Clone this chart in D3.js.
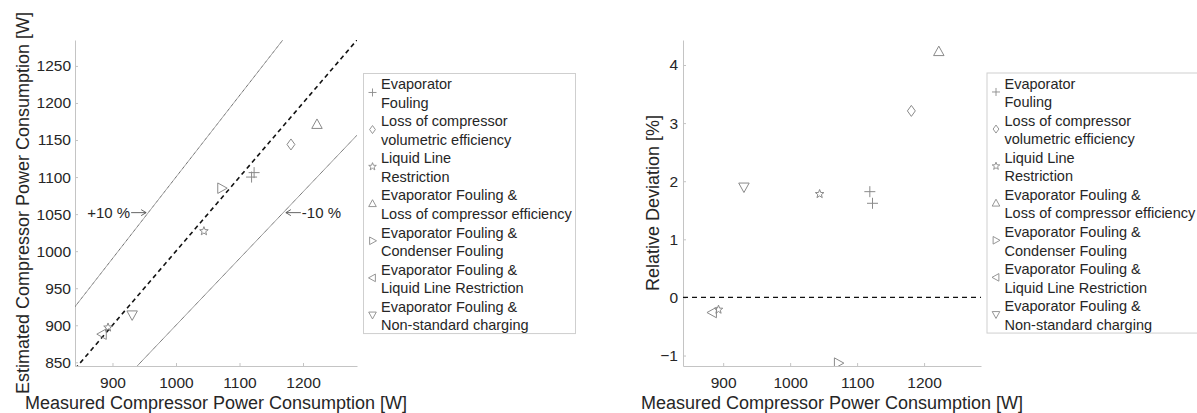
<!DOCTYPE html>
<html>
<head>
<meta charset="utf-8">
<script src="https://cdn.jsdelivr.net/npm/d3@7"></script>
<style>
  body { margin: 0; background: #fff; }
  svg text { font-family: Arial, "Liberation Sans", sans-serif; fill: #262626; }
</style>
</head>
<body>
<div id="chart"></div>
<script>
/// DATA
const categories = [
  ["Evaporator", "Fouling"],
  ["Loss of compressor", "volumetric efficiency"],
  ["Liquid Line", "Restriction"],
  ["Evaporator Fouling &", "Loss of compressor efficiency"],
  ["Evaporator Fouling &", "Condenser Fouling"],
  ["Evaporator Fouling &", "Liquid Line Restriction"],
  ["Evaporator Fouling &", "Non-standard charging"]
];
const markers = ["plus", "diamond", "star", "up", "right", "left", "down"];

// one entry per test point: category index, measured [W], estimated [W], deviation [%]
const pointCategory = [0, 0, 1, 2, 2, 3, 4, 5, 6];
const measured  = [1119, 1123, 1181, 1044, 893, 1222, 1072, 884, 931];
const estimated = [1100, 1106, 1144, 1027, 897, 1171, 1085, 888, 914];
const deviation = [1.82, 1.62, 3.21, 1.78, -0.21, 4.23, -1.13, -0.26, 1.90];

const xTicks = [900, 1000, 1100, 1200];
const yTicksLeft = [850, 900, 950, 1000, 1050, 1100, 1150, 1200, 1250];
const yTicksRight = [-1, 0, 1, 2, 3, 4];

const bandFactors = [1.1, 0.9];       // +10 % / -10 % lines
const annotations = [
  {text: "+10 %", tipX: 953, tipY: 1052, dir: 1},
  {text: "-10 %", tipX: 1173, tipY: 1052, dir: -1}
];

const width = 1197, height = 413;
const axisColor = "#c4c4c4", markColor = "#8a8a8a";

/// marker shapes (MATLAB style), r = half size in px
function markerPath(type, r) {
  const p = d3.path();
  if (type === "plus") {
    p.moveTo(-r, 0); p.lineTo(r, 0); p.moveTo(0, -r); p.lineTo(0, r);
  } else if (type === "diamond") {
    p.moveTo(0, -r); p.lineTo(r * 0.72, 0); p.lineTo(0, r); p.lineTo(-r * 0.72, 0); p.closePath();
  } else if (type === "star") {
    for (let i = 0; i < 10; i++) {
      const a = -Math.PI / 2 + i * Math.PI / 5, rr = i % 2 ? r * 0.42 : r;
      i ? p.lineTo(rr * Math.cos(a), rr * Math.sin(a)) : p.moveTo(rr * Math.cos(a), rr * Math.sin(a));
    }
    p.closePath();
  } else {
    const rot = {up: 0, right: 90, down: 180, left: 270}[type] * Math.PI / 180;
    const pts = [[0, -r], [r * 0.95, r * 0.72], [-r * 0.95, r * 0.72]].map(([x, y]) =>
      [x * Math.cos(rot) - y * Math.sin(rot), x * Math.sin(rot) + y * Math.cos(rot)]);
    p.moveTo(...pts[0]); p.lineTo(...pts[1]); p.lineTo(...pts[2]); p.closePath();
  }
  return p.toString();
}

const svg = d3.select("#chart").append("svg")
  .attr("width", width).attr("height", height);

const defs = svg.append("defs");

/// SETUP one panel: axes box, ticks, labels
function setupPanel(id, box, xDomain, yDomain, yTicks, yLabel, yLabelX, yPad) {
  const x = d3.scaleLinear().domain(xDomain).range([box.left, box.right]);
  const y = d3.scaleLinear().domain(yDomain).range([box.bottom, box.top]);

  defs.append("clipPath").attr("id", id)
    .append("rect")
    .attr("x", box.left).attr("y", box.top)
    .attr("width", box.right - box.left).attr("height", box.bottom - box.top);

  const gx = svg.append("g")
    .attr("transform", `translate(0,${box.bottom})`)
    .call(d3.axisBottom(x).tickValues(xTicks).tickFormat(d3.format("d"))
      .tickSizeInner(-3).tickSizeOuter(0).tickPadding(11));
  const gy = svg.append("g")
    .attr("transform", `translate(${box.left},0)`)
    .call(d3.axisLeft(y).tickValues(yTicks).tickFormat(d3.format("d"))
      .tickSizeInner(-3).tickSizeOuter(0).tickPadding(yPad));
  [gx, gy].forEach(g => {
    g.select(".domain").attr("stroke", axisColor);
    g.selectAll(".tick line").attr("stroke", axisColor);
    g.selectAll(".tick text").style("font-size", "15.5px").attr("fill", "#262626");
  });

  svg.append("text")
    .attr("x", (box.left + box.right) / 2).attr("y", 408.5)
    .attr("text-anchor", "middle").style("font-size", "18px")
    .text("Measured Compressor Power Consumption [W]");
  svg.append("text")
    .attr("transform", `translate(${yLabelX},${(box.top + box.bottom) / 2}) rotate(-90)`)
    .attr("text-anchor", "middle").style("font-size", "18px")
    .text(yLabel);

  const plot = svg.append("g").attr("clip-path", `url(#${id})`);
  return {x, y, plot};
}

/// DRAW legend (two-line labels, marker between the lines)
function drawLegend(left, top) {
  const rowH = 18.54;
  const g = svg.append("g");
  g.append("rect")
    .attr("x", left).attr("y", top)
    .attr("width", 212).attr("height", rowH * categories.length * 2 + 0.5)
    .attr("fill", "#fff").attr("stroke", "#cfcfcf");
  categories.forEach((lines, i) => {
    const c1 = top + 10.7 + 2 * i * rowH;
    lines.forEach((t, j) => {
      g.append("text")
        .attr("x", left + 17.5).attr("y", c1 + j * rowH + 5)
        .style("font-size", "14.5px")
        .text(t);
    });
    g.append("path")
      .attr("transform", `translate(${left + 9},${c1 + rowH / 2 - 1})`)
      .attr("d", markerPath(markers[i], 4))
      .attr("fill", "none").attr("stroke", markColor).attr("stroke-width", 0.9);
  });
}

function drawPoints(panel, yValues) {
  panel.plot.selectAll(".pt")
    .data(measured.map((m, i) => ({m, v: yValues[i], c: pointCategory[i]})))
    .join("path")
    .attr("class", "pt")
    .attr("transform", d => `translate(${panel.x(d.m)},${panel.y(d.v)})`)
    .attr("d", d => markerPath(markers[d.c], d.c === 2 ? 4.5 : 5.5))
    .attr("fill", "none")
    .attr("stroke", markColor)
    .attr("stroke-width", 1);
}

/// LEFT: estimated vs measured
const left = setupPanel("clipL", {left: 75, right: 357, top: 40, bottom: 366},
  [841, 1285], [845, 1285], yTicksLeft,
  "Estimated Compressor Power Consumption [W]", 29, 4);

const lo = left.x.domain()[0], hi = left.x.domain()[1];
left.plot.append("line")
  .attr("x1", left.x(lo)).attr("y1", left.y(lo))
  .attr("x2", left.x(hi)).attr("y2", left.y(hi))
  .attr("stroke", "#111").attr("stroke-width", 1.6).attr("stroke-dasharray", "4.5,3.5");
bandFactors.forEach(f => {
  left.plot.append("line")
    .attr("x1", left.x(lo)).attr("y1", left.y(lo * f))
    .attr("x2", left.x(hi)).attr("y2", left.y(hi * f))
    .attr("stroke", "#333").attr("stroke-width", 0.9).attr("stroke-dasharray", "1,0.6");
});
drawPoints(left, estimated);

annotations.forEach(a => {
  const tx = left.x(a.tipX), ty = left.y(a.tipY);
  const tail = tx - a.dir * 15;
  svg.append("line")
    .attr("x1", tail).attr("y1", ty).attr("x2", tx).attr("y2", ty)
    .attr("stroke", "#555").attr("stroke-width", 0.9);
  svg.append("path")
    .attr("d", `M${tx - a.dir * 5},${ty - 3}L${tx},${ty}L${tx - a.dir * 5},${ty + 3}`)
    .attr("fill", "none").attr("stroke", "#555").attr("stroke-width", 0.9);
  svg.append("text")
    .attr("x", tail - a.dir * 1).attr("y", ty + 5.3)
    .attr("text-anchor", a.dir > 0 ? "end" : "start")
    .style("font-size", "15px").attr("fill", "#111")
    .text(a.text);
});

/// RIGHT: relative deviation
const right = setupPanel("clipR", {left: 683, right: 981, top: 40, bottom: 366},
  [840, 1285], [-1.18, 4.43], yTicksRight,
  "Relative Deviation [%]", 659, 5);

right.plot.append("line")
  .attr("x1", right.x(840)).attr("x2", right.x(1285))
  .attr("y1", right.y(0)).attr("y2", right.y(0))
  .attr("stroke", "#111").attr("stroke-width", 1.3).attr("stroke-dasharray", "5,4");
drawPoints(right, deviation);

drawLegend(363.5, 73.5);
drawLegend(987, 73);
</script>
</body>
</html>
